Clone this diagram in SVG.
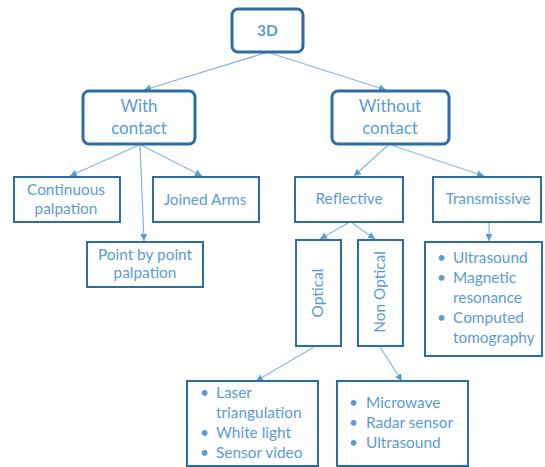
<svg xmlns="http://www.w3.org/2000/svg" width="545" height="467" viewBox="0 0 545 467">
<defs>
<marker id="ah" viewBox="0 0 10 10" refX="10" refY="5" markerWidth="7" markerHeight="7" markerUnits="userSpaceOnUse" orient="auto">
<path d="M0,0 L10,5 L0,10 z" fill="#5b9bd5"/>
</marker>
<style>
.top{fill:#fff;stroke:#2e6da4;stroke-width:3}
.box{fill:#fff;stroke:#2e6da4;stroke-width:2}
text{font-family:Lato,"Liberation Sans",sans-serif;fill:#5b9bd5;font-size:15.4px}
.big{font-size:17px}
.c{text-anchor:middle}
.con line{stroke:#8ab4e0;stroke-width:1.2;marker-end:url(#ah)}
</style>
</defs>
<rect width="545" height="467" fill="#fff"/>
<g class="con">
<line x1="265" y1="53" x2="144" y2="90"/>
<line x1="270" y1="53" x2="386" y2="90"/>
<line x1="139" y1="145" x2="70" y2="176"/>
<line x1="140" y1="145" x2="144" y2="241"/>
<line x1="141" y1="145" x2="202" y2="176"/>
<line x1="388" y1="145" x2="354" y2="176"/>
<line x1="391" y1="145" x2="484" y2="176"/>
<line x1="348" y1="223" x2="320" y2="239"/>
<line x1="352" y1="223" x2="375" y2="239"/>
<line x1="489" y1="223" x2="489" y2="241"/>
<line x1="314" y1="347" x2="256" y2="381"/>
<line x1="380" y1="347" x2="402" y2="381"/>
</g>
<g id="n3d"><rect class="top" x="232" y="9" width="71" height="43" rx="6"/><text class="c" x="267.5" y="36" font-weight="bold" style="font-size:15.5px">3D</text></g>
<g id="withContact"><rect class="top" x="83" y="91" width="112" height="53" rx="6"/><text class="c big" x="139" y="112">With</text><text class="c big" x="139" y="134">contact</text></g>
<g id="withoutContact"><rect class="top" x="332" y="91" width="117" height="53" rx="6"/><text class="c big" x="390" y="112">Without</text><text class="c big" x="390" y="134">contact</text></g>
<g id="continuous"><rect class="box" x="14" y="177" width="106" height="45"/><text class="c" x="66" y="195">Continuous</text><text class="c" x="66" y="214">palpation</text></g>
<g id="joined"><rect class="box" x="153" y="177" width="106" height="45"/><text class="c" x="205" y="205">Joined Arms</text></g>
<g id="pointByPoint"><rect class="box" x="87" y="242" width="116" height="45"/><text class="c" x="145" y="260">Point by point</text><text class="c" x="145" y="278">palpation</text></g>
<g id="reflective"><rect class="box" x="295" y="177" width="108" height="45"/><text class="c" x="349" y="204">Reflective</text></g>
<g id="transmissive"><rect class="box" x="433" y="177" width="108" height="45"/><text class="c" x="488" y="204">Transmissive</text></g>
<g id="optical"><rect class="box" x="296" y="240" width="45" height="106"/><text class="c" transform="translate(323,293) rotate(-90)">Optical</text></g>
<g id="nonOptical"><rect class="box" x="358" y="240" width="45" height="106"/><text class="c" transform="translate(385,292) rotate(-90)">Non Optical</text></g>
<g id="transList"><rect class="box" x="425" y="242" width="117" height="114"/>
<text x="437" y="263">•</text><text x="453" y="263">Ultrasound</text>
<text x="437" y="283">•</text><text x="453" y="283">Magnetic</text>
<text x="453" y="303">resonance</text>
<text x="437" y="323">•</text><text x="453" y="323">Computed</text>
<text x="453" y="343">tomography</text></g>
<g id="opticalList"><rect class="box" x="187" y="381" width="131" height="85"/>
<text x="200" y="398">•</text><text x="216" y="398">Laser</text>
<text x="216" y="418">triangulation</text>
<text x="200" y="438">•</text><text x="216" y="438">White light</text>
<text x="200" y="458">•</text><text x="216" y="458">Sensor video</text></g>
<g id="nonOpticalList"><rect class="box" x="337" y="381" width="131" height="85"/>
<text x="349" y="408">•</text><text x="366" y="408">Microwave</text>
<text x="349" y="428">•</text><text x="366" y="428">Radar sensor</text>
<text x="349" y="448">•</text><text x="366" y="448">Ultrasound</text></g>
</svg>
